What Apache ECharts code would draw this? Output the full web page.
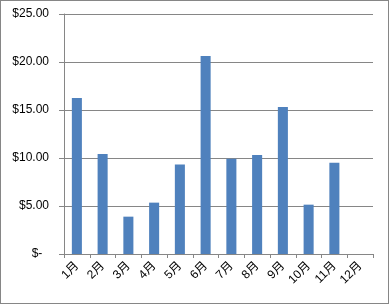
<!DOCTYPE html>
<html><head><meta charset="utf-8">
<script src="https://cdn.jsdelivr.net/npm/echarts@6/dist/echarts.min.js"></script>
<style>html,body{margin:0;padding:0;background:#fff}#c{width:389px;height:304px;box-sizing:border-box;border:1px solid #868686}</style>
</head><body><div id="c"></div>
<script>
const categories = ['1月','2月','3月','4月','5月','6月','7月','8月','9月','10月','11月','12月'];
const values = [16.25, 10.42, 3.89, 5.35, 9.31, 20.63, 9.93, 10.31, 15.31, 5.14, 9.51, 0];
const yMin = 0, yMax = 25, yStep = 5;
const chart = echarts.init(document.getElementById('c'));
const font = '"Liberation Sans","Noto Sans CJK SC",sans-serif';
chart.setOption({
  animation: false,
  grid: {left: 63, right: 15, top: 13, bottom: 49},
  xAxis: {
    type: 'category', data: categories,
    axisLine: {lineStyle: {color: '#868686', width: 1}},
    axisTick: {show: true, length: 4, lineStyle: {color: '#868686'}},
    axisLabel: {rotate: 45, color: '#000', fontSize: 12, fontFamily: font, margin: 10, interval: 0}
  },
  yAxis: {
    type: 'value', min: yMin, max: yMax, interval: yStep,
    axisLine: {show: true, lineStyle: {color: '#868686', width: 1}},
    axisTick: {show: true, length: 5, lineStyle: {color: '#868686'}},
    splitLine: {lineStyle: {color: '#868686', width: 1}},
    axisLabel: {color: '#000', fontSize: 12, fontFamily: font, margin: 15,
      formatter: v => v === 0 ? '$-  ' : '$' + v.toFixed(2)}
  },
  series: [{type: 'bar', data: values, barWidth: '39%', itemStyle: {color: '#4F81BD'}}]
});
</script></body></html>
